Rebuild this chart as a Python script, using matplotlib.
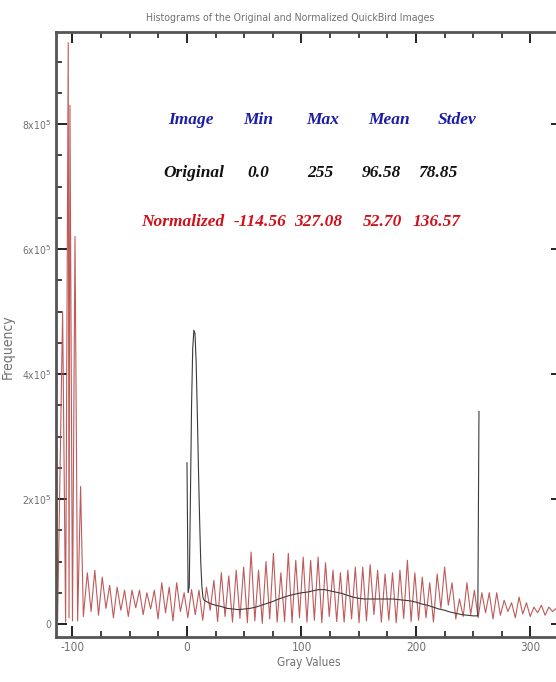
import matplotlib.pyplot as plt
import numpy as np
from matplotlib.ticker import MultipleLocator

# original image histogram (gray level -> frequency, thousands)
orig_x = [0, 1, 2, 3, 4, 5, 6, 7, 8, 9, 10, 11, 12, 13, 14, 15,
          20, 25, 30, 35, 40, 45, 50, 55, 60, 65, 70, 75, 80, 85, 90, 95,
          100, 105, 110, 115, 120, 125, 130, 135, 140, 145, 150, 155, 160,
          165, 170, 175, 180, 185, 190, 195, 200, 205, 210, 215, 220, 225,
          230, 235, 240, 245, 250, 254, 255]
orig_y = [258, 50, 60, 200, 350, 440, 470, 465, 420, 340, 250, 170, 100, 60, 42, 38,
          33, 30, 28, 25, 24, 23, 24, 25, 27, 30, 33, 36, 40, 43, 46, 48,
          50, 51, 53, 55, 55, 53, 51, 49, 46, 43, 41, 40, 40,
          40, 40, 40, 40, 39, 38, 37, 35, 32, 30, 27, 24, 22,
          19, 17, 15, 14, 13, 13, 340]

# normalized image: tall spikes at the low end
norm_spike_x = [-114.56, -113.0, -108.6, -106.0, -103.7, -103.0, -102.2,
                -100.0, -97.8, -95.5, -92.9, -90.5]
norm_spike_y = [480, 5, 500, 3, 930, 10, 830, 5, 620, 5, 220, 12]

# normalized image: zigzag peaks and troughs (thousands)
norm_peaks = [82, 86, 75, 62, 59, 54, 54, 54, 50, 54, 66, 59, 66, 50, 55, 54,
              59, 70, 82, 77, 86, 91, 115, 86, 100, 113, 82, 113, 102, 107, 102, 107,
              98, 86, 82, 86, 91, 91, 95, 86, 80, 82, 86, 102, 82, 75, 66, 80,
              91, 66, 40, 66, 54, 50, 50, 50, 38, 34, 43, 34, 27, 30, 27, 25]
norm_troughs = [20, 14, 25, 10, 22, 12, 26, 15, 24,
                8, 18, 5, 20, 10, 15, 6, 22, 4, 12, 3, 9,
                2, 5, 1, 8, 3, 4, 2, 10, 3, 6, 2, 12, 4, 3, 8, 2, 5, 15, 3, 6, 2, 9, 4,
                6, 10, 3, 25, 30, 8, 12, 15, 10, 18, 8, 14, 20, 10, 16, 12, 18, 14, 20]
norm_end = (327.08, 20)

headers = ["Image", "Min", "Max", "Mean", "Stdev"]
row_orig = ["Original", "0.0", "255", "96.58", "78.85"]
row_norm = ["Normalized", "-114.56", "327.08", "52.70", "136.57"]

# build the zigzag path
px = np.linspace(-87, 322.5, len(norm_peaks))
zx, zy = [], []
for i in range(len(norm_peaks)):
    zx.append(px[i]); zy.append(norm_peaks[i])
    if i < len(norm_troughs):
        zx.append((px[i] + px[i + 1]) / 2); zy.append(norm_troughs[i])
zx.append(norm_end[0]); zy.append(norm_end[1])
red_x = np.array(norm_spike_x + zx)
red_y = np.array(norm_spike_y + zy) * 1e3

fig = plt.figure(figsize=(5.56, 6.82), dpi=100)
ax = fig.add_axes([55.8 / 556, 45 / 682, 505.7 / 556, 605 / 682])

ax.plot(red_x, red_y, color='#b84848', lw=0.8, alpha=0.9)
ax.plot(orig_x, np.array(orig_y) * 1e3, color='#3a3a3a', lw=0.8)

ax.set_xlim(-114.56, 327.08)
ax.set_ylim(-20800, 947200)

ax.xaxis.set_major_locator(MultipleLocator(100))
ax.xaxis.set_minor_locator(MultipleLocator(25))
ax.yaxis.set_major_locator(MultipleLocator(2e5))
ax.yaxis.set_minor_locator(MultipleLocator(5e4))

gray = '#707070'
lab = dict(family='DejaVu Sans', fontstretch='condensed', color=gray)
ax.set_xticks([-100, 0, 100, 200, 300])
ax.set_xticklabels(['-100', '0', '100', '200', '300'], fontsize=8.5, **lab)
yt = [0, 2e5, 4e5, 6e5, 8e5]
ax.set_yticks(yt)
ax.set_yticklabels(['0'] + [f'{int(v / 1e5)}x10$^5$' for v in yt[1:]], fontsize=7.5, **lab)

ax.tick_params(which='both', direction='in', top=True, right=True, color='#222222')
ax.tick_params(which='major', length=8, width=1.4, pad=3)
ax.tick_params(which='minor', length=4, width=1.2)
for s in ax.spines.values():
    s.set_color('#555555')
    s.set_linewidth(2)

ax.set_xlabel('Gray Values', fontsize=8.5, labelpad=1, **lab)
ax.set_ylabel('Frequency', fontsize=10, **lab)
ax.yaxis.set_label_coords(-0.081, 0.48)
fig.text(290 / 556, 1 - 18 / 682, 'Histograms of the Original and Normalized QuickBird Images',
         fontsize=7.6, ha='center', va='center', **lab)

# statistics table
def to_ax(x, y):
    return (x - 55.8) / 505.7, (637 - y) / 605

col_x = [[191, 258, 323, 389, 457], [194, 258, 320, 381, 438], [183, 260, 318, 382, 437]]
row_y = [120, 173, 222]
colors = ['#1c1ca8', '#111111', '#d0101a']
for r, (row, c) in enumerate(zip([headers, row_orig, row_norm], colors)):
    for k, txt in enumerate(row):
        xa, ya = to_ax(col_x[r][k], row_y[r])
        ax.text(xa, ya, txt, transform=ax.transAxes, ha='center', va='center',
                family='Liberation Serif', style='italic', weight='bold',
                fontsize=12.5, color=c)

fig.savefig('out.png', dpi=100)
